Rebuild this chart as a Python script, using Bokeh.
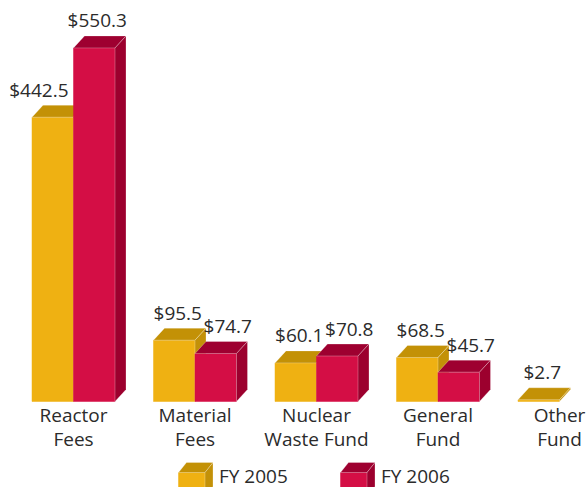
from bokeh.plotting import figure
from bokeh.models import Range1d
from bokeh.embed import file_html
from bokeh.resources import INLINE
from bokeh.core.properties import value

# ---- data ----
categories = ["Reactor\nFees", "Material\nFees", "Nuclear\nWaste Fund", "General\nFund", "Other\nFund"]
fy2005 = [442.5, 95.5, 60.1, 68.5, 2.7]
fy2006 = [550.3, 74.7, 70.8, 45.7, None]
series_names = ["FY 2005", "FY 2006"]

# ---- layout constants (pixels) ----
W, H = 587, 487
PX_X = 121.5          # pixels per category unit
PX_Y = 0.6425         # pixels per $ unit
LEFT_PX = 73          # px of first category centre
BASE_PX = 86          # px of value 0 from bottom
BAR_W = 41.5 / PX_X
DX = 11 / PX_X
DY = 12 / PX_Y
TEXT_SHIFT = 8 / PX_Y  # baseline correction for the svg text

FONT = "Open Sans"
TXT = "#2b2b2b"
COLORS = {
    "FY 2005": ("#EFB112", "#C39106", "#C39108"),
    "FY 2006": ("#D40E45", "#9E0030", "#9C002E"),
}

x0 = -LEFT_PX / PX_X
y0 = -BASE_PX / PX_Y
p = figure(width=W, height=H, output_backend="svg", toolbar_location=None,
           x_range=Range1d(x0, x0 + W / PX_X), y_range=Range1d(y0, y0 + H / PX_Y),
           x_axis_location=None, y_axis_location=None, min_border=0)
p.grid.visible = False
p.outline_line_color = None
p.background_fill_color = "white"


def box(xl, xr, yb, yt, dx, dy, colors):
    front, top, side = colors
    p.patches(xs=[[xl, xr, xr, xl]], ys=[[yb, yb, yt, yt]],
              fill_color=front, line_color=front, line_width=0.5)
    p.patches(xs=[[xl, xr, xr + dx, xl + dx]], ys=[[yt, yt, yt + dy, yt + dy]],
              fill_color=top, line_color="white", line_width=0.6, line_alpha=0.45)
    p.patches(xs=[[xr, xr + dx, xr + dx, xr]], ys=[[yb, yb + dy, yt + dy, yt]],
              fill_color=side, line_color="white", line_width=0.6, line_alpha=0.45)


def label(x, y, t, align="center", size="19px"):
    p.text(x=[x], y=[y + TEXT_SHIFT], text=[t], text_font=value(FONT), text_font_size=size,
           text_color=TXT, text_align=align, text_baseline="alphabetic")


lab_gap = (12 + 7.5) / PX_Y
for i, cat in enumerate(categories):
    a = fy2005[i]
    b = fy2006[i]
    # FY 2005 bar (left of centre)
    box(i - BAR_W, i, 0, a, DX, DY, COLORS["FY 2005"])
    # FY 2006 bar (right of centre)
    if b is not None:
        box(i, i + BAR_W, 0, b, DX, DY, COLORS["FY 2006"])
    # value labels
    left_shifted = b is not None and b - a > 30
    if left_shifted:
        label(i - 5 / PX_X, a + lab_gap, f"${a:.1f}", align="right")
    else:
        label(i - BAR_W / 2 + 3.5 / PX_X, a + lab_gap, f"${a:.1f}")
    if b is not None:
        off = 3 if left_shifted else 12
        label(i + BAR_W / 2 + off / PX_X, b + lab_gap, f"${b:.1f}")
    # category labels
    lines = cat.split("\n")
    label(i, -21 / PX_Y, lines[0])
    label(i, -45 / PX_Y, lines[1])

# ---- legend (3D swatches) ----
leg_px = [178, 340]   # px of swatch left edges
sw_w = 26.5 / PX_X
for name, lx in zip(series_names, leg_px):
    xl = (lx - LEFT_PX) / PX_X
    top = -71 / PX_Y
    box(xl, xl + sw_w, -95 / PX_Y, top, 8 / PX_X, 10 / PX_Y, COLORS[name])
    label(xl + sw_w + 14 / PX_X, -82 / PX_Y, name, align="left")

open("out.html", "w").write(file_html(p, INLINE))
